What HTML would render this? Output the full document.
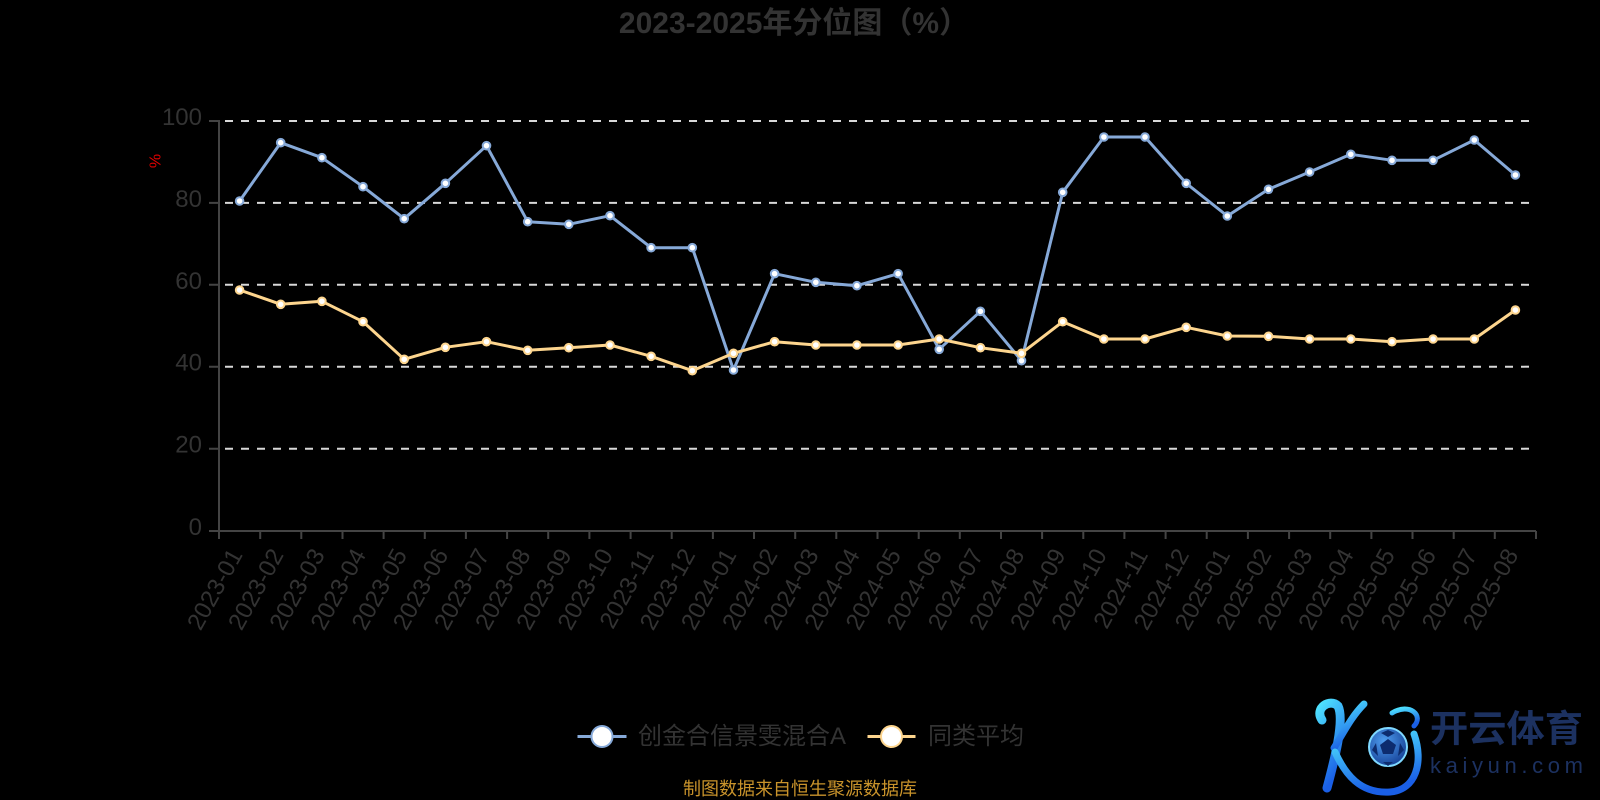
<!DOCTYPE html>
<html><head><meta charset="utf-8"><style>
html,body{margin:0;padding:0;background:#000;}
svg{display:block;}
text{font-family:"Liberation Sans","Noto Sans CJK SC",sans-serif;}
</style></head><body>
<svg width="1600" height="800" viewBox="0 0 1600 800" xmlns="http://www.w3.org/2000/svg">
<rect width="1600" height="800" fill="#000"/>
<defs>
<linearGradient id="kg" x1="0" y1="0" x2="0.3" y2="1"><stop offset="0" stop-color="#4fe3ff"/><stop offset="1" stop-color="#1a5fe6"/></linearGradient>
<radialGradient id="bg" cx="0.4" cy="0.35" r="0.7"><stop offset="0" stop-color="#4f9ef0"/><stop offset="1" stop-color="#143f95"/></radialGradient>
</defs>

<!-- title -->
<text x="794" y="33" text-anchor="middle" font-size="30" font-weight="bold" fill="#333">2023-2025年分位图（%）</text>

<!-- grid lines -->
<g stroke="#d8d8d8" stroke-width="2" stroke-dasharray="8 8" stroke-dashoffset="10" fill="none">
<path d="M219 121H1536"/>
<path d="M219 202.9H1536"/>
<path d="M219 284.8H1536"/>
<path d="M219 366.7H1536"/>
<path d="M219 448.7H1536"/>
</g>

<!-- axes -->
<g stroke="#444" stroke-width="2" fill="none">
<path d="M219 120V531"/>
<path d="M209 121H219M209 202.9H219M209 284.8H219M209 366.7H219M209 448.7H219M209 531H219"/>
<path d="M219 531H1536"/>
<path d="M219 531V539M260.2 531V539M301.3 531V539M342.5 531V539M383.6 531V539M424.8 531V539M465.9 531V539M507.1 531V539M548.2 531V539M589.4 531V539M630.6 531V539M671.7 531V539M712.9 531V539M754 531V539M795.2 531V539M836.3 531V539M877.5 531V539M918.7 531V539M959.8 531V539M1001 531V539M1042.1 531V539M1083.3 531V539M1124.4 531V539M1165.6 531V539M1206.7 531V539M1247.9 531V539M1289.1 531V539M1330.2 531V539M1371.4 531V539M1412.5 531V539M1453.7 531V539M1494.8 531V539M1536 531V539"/>
</g>

<!-- y labels -->
<g font-size="24" fill="#333" text-anchor="end" dominant-baseline="central">
<text x="202" y="117.5">100</text>
<text x="202" y="199.4">80</text>
<text x="202" y="281.3">60</text>
<text x="202" y="363.2">40</text>
<text x="202" y="445.2">20</text>
<text x="202" y="527.5">0</text>
</g>
<text x="0" y="0" transform="translate(156,161) rotate(-90)" font-size="16" fill="#e00000" text-anchor="middle" dominant-baseline="central">%</text>

<!-- x labels -->
<g font-size="24" fill="#333" text-anchor="end" dominant-baseline="central">
<text transform="translate(236.6,551) rotate(-61)">2023-01</text>
<text transform="translate(277.7,551) rotate(-61)">2023-02</text>
<text transform="translate(318.9,551) rotate(-61)">2023-03</text>
<text transform="translate(360,551) rotate(-61)">2023-04</text>
<text transform="translate(401.2,551) rotate(-61)">2023-05</text>
<text transform="translate(442.4,551) rotate(-61)">2023-06</text>
<text transform="translate(483.5,551) rotate(-61)">2023-07</text>
<text transform="translate(524.7,551) rotate(-61)">2023-08</text>
<text transform="translate(565.8,551) rotate(-61)">2023-09</text>
<text transform="translate(607,551) rotate(-61)">2023-10</text>
<text transform="translate(648.1,551) rotate(-61)">2023-11</text>
<text transform="translate(689.3,551) rotate(-61)">2023-12</text>
<text transform="translate(730.5,551) rotate(-61)">2024-01</text>
<text transform="translate(771.6,551) rotate(-61)">2024-02</text>
<text transform="translate(812.8,551) rotate(-61)">2024-03</text>
<text transform="translate(853.9,551) rotate(-61)">2024-04</text>
<text transform="translate(895.1,551) rotate(-61)">2024-05</text>
<text transform="translate(936.2,551) rotate(-61)">2024-06</text>
<text transform="translate(977.4,551) rotate(-61)">2024-07</text>
<text transform="translate(1018.5,551) rotate(-61)">2024-08</text>
<text transform="translate(1059.7,551) rotate(-61)">2024-09</text>
<text transform="translate(1100.9,551) rotate(-61)">2024-10</text>
<text transform="translate(1142,551) rotate(-61)">2024-11</text>
<text transform="translate(1183.2,551) rotate(-61)">2024-12</text>
<text transform="translate(1224.3,551) rotate(-61)">2025-01</text>
<text transform="translate(1265.5,551) rotate(-61)">2025-02</text>
<text transform="translate(1306.6,551) rotate(-61)">2025-03</text>
<text transform="translate(1347.8,551) rotate(-61)">2025-04</text>
<text transform="translate(1389,551) rotate(-61)">2025-05</text>
<text transform="translate(1430.1,551) rotate(-61)">2025-06</text>
<text transform="translate(1471.3,551) rotate(-61)">2025-07</text>
<text transform="translate(1512.4,551) rotate(-61)">2025-08</text>
</g>

<!-- blue series -->
<polyline fill="none" stroke="#86a9d8" stroke-width="3" stroke-linejoin="round" points="239.6,201 280.7,142.7 321.9,157.7 363,186.7 404.2,218.7 445.4,183.3 486.5,145.7 527.7,221.7 568.8,224.3 610,215.7 651.1,247.7 692.3,247.7 733.5,370 774.6,273.7 815.8,282.3 856.9,285.7 898.1,273.7 939.2,349.3 980.4,311.3 1021.5,360.7 1062.7,192.3 1103.9,137 1145,137 1186.2,183.3 1227.3,216 1268.5,189.3 1309.6,172 1350.8,154.3 1392,160.3 1433.1,160.3 1474.3,140 1515.4,175"/>
<g fill="#fff" stroke="#86a9d8" stroke-width="2">
<circle cx="239.6" cy="201" r="3.8"/><circle cx="280.7" cy="142.7" r="3.8"/><circle cx="321.9" cy="157.7" r="3.8"/><circle cx="363" cy="186.7" r="3.8"/><circle cx="404.2" cy="218.7" r="3.8"/><circle cx="445.4" cy="183.3" r="3.8"/><circle cx="486.5" cy="145.7" r="3.8"/><circle cx="527.7" cy="221.7" r="3.8"/><circle cx="568.8" cy="224.3" r="3.8"/><circle cx="610" cy="215.7" r="3.8"/><circle cx="651.1" cy="247.7" r="3.8"/><circle cx="692.3" cy="247.7" r="3.8"/><circle cx="733.5" cy="370" r="3.8"/><circle cx="774.6" cy="273.7" r="3.8"/><circle cx="815.8" cy="282.3" r="3.8"/><circle cx="856.9" cy="285.7" r="3.8"/><circle cx="898.1" cy="273.7" r="3.8"/><circle cx="939.2" cy="349.3" r="3.8"/><circle cx="980.4" cy="311.3" r="3.8"/><circle cx="1021.5" cy="360.7" r="3.8"/><circle cx="1062.7" cy="192.3" r="3.8"/><circle cx="1103.9" cy="137" r="3.8"/><circle cx="1145" cy="137" r="3.8"/><circle cx="1186.2" cy="183.3" r="3.8"/><circle cx="1227.3" cy="216" r="3.8"/><circle cx="1268.5" cy="189.3" r="3.8"/><circle cx="1309.6" cy="172" r="3.8"/><circle cx="1350.8" cy="154.3" r="3.8"/><circle cx="1392" cy="160.3" r="3.8"/><circle cx="1433.1" cy="160.3" r="3.8"/><circle cx="1474.3" cy="140" r="3.8"/><circle cx="1515.4" cy="175" r="3.8"/>
</g>

<!-- yellow series -->
<polyline fill="none" stroke="#fdd58e" stroke-width="3" stroke-linejoin="round" points="239.6,290 280.7,304.3 321.9,301.3 363,321.7 404.2,359.3 445.4,347.3 486.5,341.7 527.7,350.3 568.8,347.7 610,345 651.1,356.3 692.3,370.7 733.5,353.3 774.6,341.7 815.8,345 856.9,345 898.1,345 939.2,339 980.4,347.7 1021.5,353.3 1062.7,321.7 1103.9,339 1145,339 1186.2,327.3 1227.3,336 1268.5,336.3 1309.6,339 1350.8,339 1392,341.7 1433.1,339 1474.3,339 1515.4,310"/>
<g fill="#fff" stroke="#fdd58e" stroke-width="2">
<circle cx="239.6" cy="290" r="3.8"/><circle cx="280.7" cy="304.3" r="3.8"/><circle cx="321.9" cy="301.3" r="3.8"/><circle cx="363" cy="321.7" r="3.8"/><circle cx="404.2" cy="359.3" r="3.8"/><circle cx="445.4" cy="347.3" r="3.8"/><circle cx="486.5" cy="341.7" r="3.8"/><circle cx="527.7" cy="350.3" r="3.8"/><circle cx="568.8" cy="347.7" r="3.8"/><circle cx="610" cy="345" r="3.8"/><circle cx="651.1" cy="356.3" r="3.8"/><circle cx="692.3" cy="370.7" r="3.8"/><circle cx="733.5" cy="353.3" r="3.8"/><circle cx="774.6" cy="341.7" r="3.8"/><circle cx="815.8" cy="345" r="3.8"/><circle cx="856.9" cy="345" r="3.8"/><circle cx="898.1" cy="345" r="3.8"/><circle cx="939.2" cy="339" r="3.8"/><circle cx="980.4" cy="347.7" r="3.8"/><circle cx="1021.5" cy="353.3" r="3.8"/><circle cx="1062.7" cy="321.7" r="3.8"/><circle cx="1103.9" cy="339" r="3.8"/><circle cx="1145" cy="339" r="3.8"/><circle cx="1186.2" cy="327.3" r="3.8"/><circle cx="1227.3" cy="336" r="3.8"/><circle cx="1268.5" cy="336.3" r="3.8"/><circle cx="1309.6" cy="339" r="3.8"/><circle cx="1350.8" cy="339" r="3.8"/><circle cx="1392" cy="341.7" r="3.8"/><circle cx="1433.1" cy="339" r="3.8"/><circle cx="1474.3" cy="339" r="3.8"/><circle cx="1515.4" cy="310" r="3.8"/>
</g>

<!-- legend -->
<path d="M577.5 736.5H626.5" stroke="#86a9d8" stroke-width="3"/>
<circle cx="602" cy="736.5" r="10.5" fill="#fff" stroke="#86a9d8" stroke-width="2"/>
<text x="638" y="736.5" font-size="24" fill="#333" dominant-baseline="central">创金合信景雯混合A</text>
<path d="M867.5 736.5H915.5" stroke="#fdd58e" stroke-width="3"/>
<circle cx="891.5" cy="736.5" r="10.5" fill="#fff" stroke="#fdd58e" stroke-width="2"/>
<text x="928" y="736.5" font-size="24" fill="#333" dominant-baseline="central">同类平均</text>

<!-- source -->
<text x="800" y="789" font-size="18" fill="#c9932b" text-anchor="middle" dominant-baseline="central">制图数据来自恒生聚源数据库</text>

<!-- logo -->
<g fill="none" stroke="url(#kg)" stroke-linecap="round">
<path d="M1322 720 C1314 708 1330 698 1338 706 C1345 720 1334 762 1327 788" stroke-width="9"/>
<path d="M1334 748 C1345 730 1352 716 1364 704" stroke-width="7"/>
<path d="M1335 752 C1345 774 1360 794 1390 792 C1416 790 1424 762 1414 734" stroke-width="7"/>
<path d="M1392 713 C1410 702 1424 716 1414 726" stroke-width="5"/>
</g>
<circle cx="1388" cy="747" r="19" fill="url(#bg)" stroke="#7fd8ff" stroke-width="2"/>
<polygon points="1388,739 1396,745 1393,754 1383,754 1380,745" fill="#0d2c6e"/>
<polygon points="1388,730 1395,733 1388,737 1381,733" fill="#0d2c6e"/>
<polygon points="1372,750 1376,743 1378,756" fill="#0d2c6e"/>
<polygon points="1404,750 1400,743 1398,756" fill="#0d2c6e"/>
<polygon points="1383,762 1393,762 1388,766" fill="#0d2c6e"/>
<text x="1430" y="729" font-size="37" font-weight="bold" fill="#1c3160" dominant-baseline="central" textLength="153" lengthAdjust="spacingAndGlyphs">开云体育</text>
<text x="1430" y="773" font-size="22" fill="#1c3160" textLength="153" lengthAdjust="spacing">kaiyun.com</text>
</svg>
</body></html>
